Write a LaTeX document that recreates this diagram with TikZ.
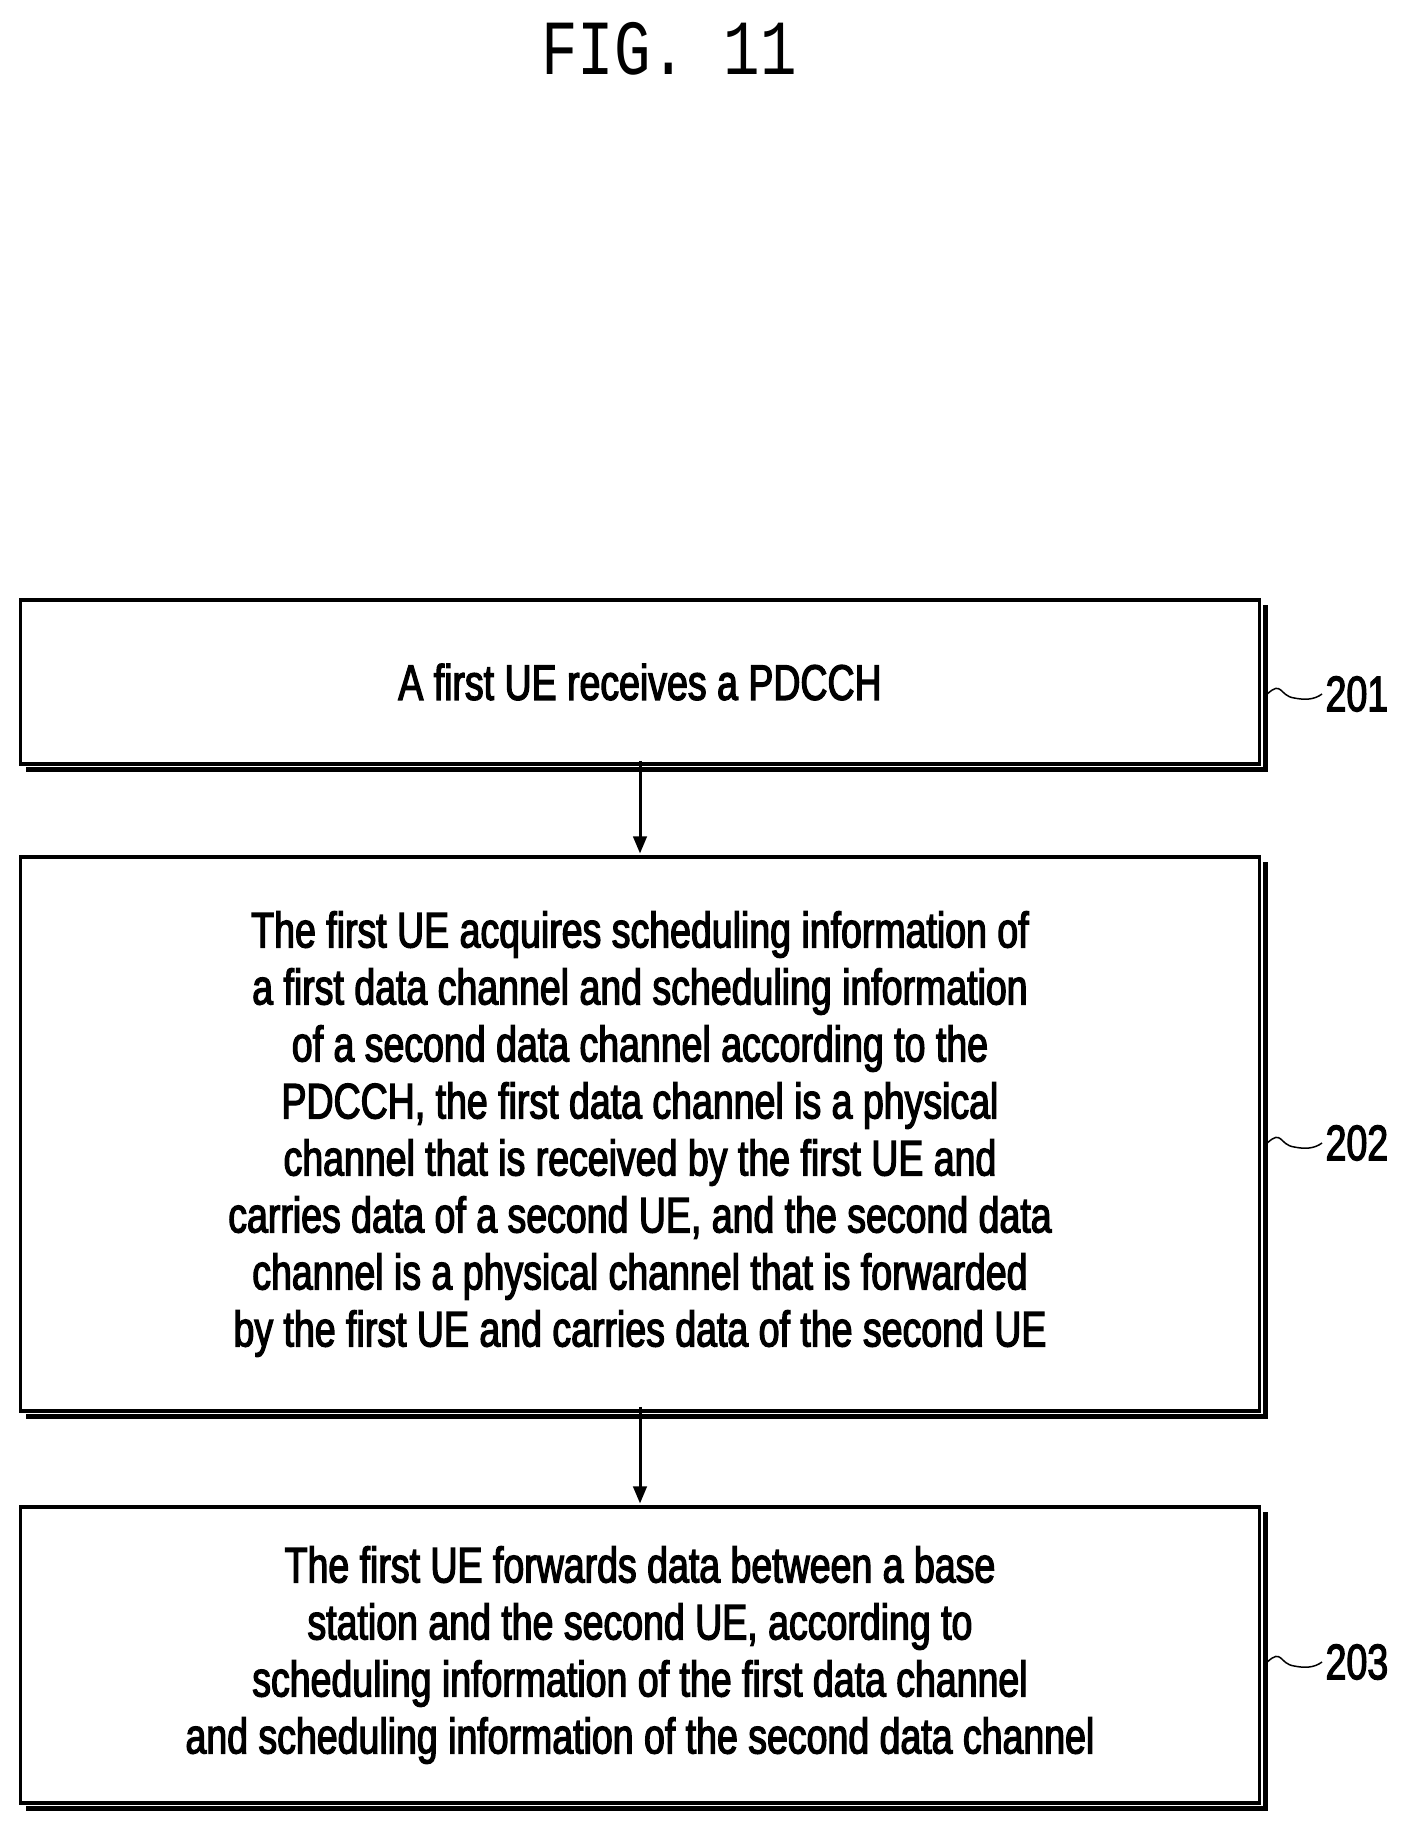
\documentclass[tikz,border=0pt]{standalone}
\usepackage{fontspec}
\setmainfont[FakeStretch=0.75,FakeBold=2.5]{Liberation Sans}
\newfontfamily\figfont[FakeStretch=0.78]{Liberation Mono}
\usetikzlibrary{positioning}
\usetikzlibrary{arrows}
\begin{document}
\begin{tikzpicture}[
            > = stealth, % arrow head style
            x = 1pt, y = -1pt,
            semithick % line style
            ]

        \tikzstyle{stepbox}=[
            draw,
            line width = 3.5pt,
            minimum width = 1239pt,
            align = center,
            font = \fontsize{50}{57}\selectfont,
            inner sep = 0pt
        ]
        \tikzstyle{refno}=[font = \fontsize{50}{57}\selectfont, anchor = west]

        \useasboundingbox (0,0) rectangle (1409,1827);

	% title
	\node (T) at (669,49) {\figfont\fontsize{78}{80}\selectfont FIG. 11};

	% steps
	\node[stepbox, minimum height = 164pt] (S1) at (640,682) {A first UE receives a PDCCH};
	\node[stepbox, minimum height = 554pt] (S2) at (640,1134) {The first UE acquires scheduling information of\\
	a first data channel and scheduling information\\
	of a second data channel according to the\\
	PDCCH, the first data channel is a physical\\
	channel that is received by the first UE and\\
	carries data of a second UE, and the second data\\
	channel is a physical channel that is forwarded\\
	by the first UE and carries data of the second UE};
	\node[stepbox, minimum height = 296pt] (S3) at (640,1655) {The first UE forwards data between a base\\
	station and the second UE, according to\\
	scheduling information of the first data channel\\
	and scheduling information of the second data channel};

	% shadows
	\foreach \s in {S1,S2,S3}
	    \draw[line width = 5pt] ([shift={(4,7)}]\s.north east) -- ([shift={(4,4)}]\s.south east) -- ([shift={(7,4)}]\s.south west);

	% arrows
	\path[-triangle 45, line width = 3pt] ([yshift=5pt]S1.south) edge ([yshift=2pt]S2.north);
	\path[-triangle 45, line width = 3pt] ([yshift=6pt]S2.south) edge ([yshift=2pt]S3.north);

	% reference numbers
	\node[refno] (N1) at (1322,694) {201};
	\node[refno] (N2) at (1322,1143) {202};
	\node[refno] (N3) at (1322,1662) {203};
	\foreach \s/\n in {S1/N1,S2/N2,S3/N3}
	    \draw[line width = 1.5pt] ([xshift=6pt]\s.east|-\n.west) .. controls +(15,-14) and +(-15,-2) .. ++(27,4) .. controls +(10,2) and +(-8,6) .. (\n.west);

\end{tikzpicture}
\end{document}
